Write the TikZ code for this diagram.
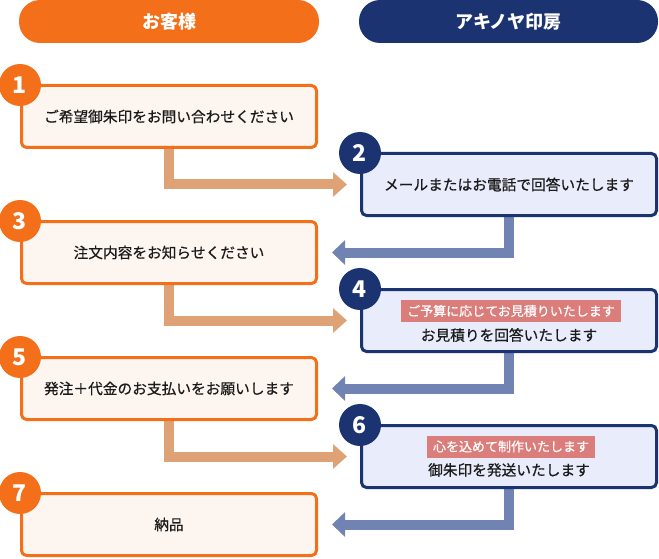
\documentclass[tikz,border=0pt]{standalone}
\usepackage{fontspec}
\setmainfont{Noto Sans CJK JP}
\newfontfamily\medfont[FakeBold=0.5]{Noto Sans CJK JP}
\usetikzlibrary{arrows.meta,calc}
\definecolor{orng}{HTML}{F36F1A}
\definecolor{ofill}{HTML}{FDF5F0}
\definecolor{oarr}{HTML}{DFA176}
\definecolor{navy}{HTML}{1C3372}
\definecolor{nfill}{HTML}{E8ECFB}
\definecolor{narr}{HTML}{7083B3}
\definecolor{pinklab}{HTML}{DB7D7B}
\definecolor{txt}{HTML}{1A1A1A}
\begin{document}
\begin{tikzpicture}[x=1pt,y=-1pt,
  header/.style={rectangle, rounded corners=21pt, minimum width=300pt, minimum height=43pt,
    inner sep=0pt, text=white, font=\bfseries\fontsize{18}{20}\selectfont},
  custbox/.style={rectangle, draw=orng, fill=ofill, line width=3pt, rounded corners=5pt,
    minimum width=295pt, minimum height=62pt, inner sep=0pt, text=txt,
    font=\medfont\fontsize{14.7}{17}\selectfont},
  shopbox/.style={custbox, draw=navy, fill=nfill},
  onum/.style={circle, fill=orng, minimum size=42pt, inner sep=0pt, text=white,
    font=\bfseries\fontsize{23}{23}\selectfont},
  nnum/.style={onum, fill=navy},
  oarrow/.style={draw=oarr, line width=10pt, -{Triangle[width=24pt,length=14pt]}, shorten >=13pt},
  narrow/.style={draw=narr, line width=10pt, -{Triangle[width=24pt,length=13pt]}, shorten >=14pt},
  plabel/.style={rectangle, fill=pinklab, text=white, minimum height=22pt, inner xsep=6pt,
    inner ysep=0pt, font=\medfont\fontsize{13}{15}\selectfont},
  maintext/.style={inner sep=0pt, text=txt, font=\medfont\fontsize{14.7}{17}\selectfont}
]
\useasboundingbox (0,0) rectangle (659,559);

\node[header, fill=orng] (h1) at (169,21.5) {お客様};
\node[header, fill=navy, minimum width=299pt] (h2) at (508.5,21.5) {アキノヤ印房};

\path
  (169,116.5) coordinate (c1)
  (509,184.5) coordinate (c2)
  (169,252.5) coordinate (c3)
  (509,320.5) coordinate (c4)
  (169,388.5) coordinate (c5)
  (509,456.5) coordinate (c6)
  (169,524.5) coordinate (c7);

\node[custbox, draw opacity=0, fill opacity=0] (b1) at (c1) {};
\node[shopbox, draw opacity=0, fill opacity=0] (b2) at (c2) {};
\node[custbox, draw opacity=0, fill opacity=0] (b3) at (c3) {};
\node[shopbox, draw opacity=0, fill opacity=0] (b4) at (c4) {};
\node[custbox, draw opacity=0, fill opacity=0] (b5) at (c5) {};
\node[shopbox, draw opacity=0, fill opacity=0] (b6) at (c6) {};
\node[custbox, draw opacity=0, fill opacity=0] (b7) at (c7) {};

% arrows
\draw[oarrow] (b1.south) |- (b2.west);
\draw[narrow] (b2.south) |- (b3.east);
\draw[oarrow] (b3.south) |- (b4.west);
\draw[narrow] (b4.south) |- (b5.east);
\draw[oarrow] (b5.south) |- (b6.west);
\draw[narrow] (b6.south) |- (b7.east);

% visible boxes
\node[custbox] (v1) at (b1) {ご希望御朱印をお問い合わせください};
\node[shopbox] (v2) at (b2) {メールまたはお電話で回答いたします};
\node[custbox] (v3) at (b3) {注文内容をお知らせください};
\node[shopbox] (v4) at (b4) {};
\node[custbox] (v5) at (b5) {発注＋代金のお支払いをお願いします};
\node[shopbox] (v6) at (b6) {};
\node[custbox] (v7) at (b7) {納品};

\node[plabel] (l4) at ($(b4.center)+(2,-9.5)$) {ご予算に応じてお見積りいたします};
\node[maintext] (t4) at ($(b4.center)+(0,14.5)$) {お見積りを回答いたします};
\node[plabel] (l6) at ($(b6.center)+(2,-10)$) {心を込めて制作いたします};
\node[maintext] (t6) at ($(b6.center)+(0,13.5)$) {御朱印を発送いたします};

% number circles
\node[onum] (n1) at ($(v1.north west)+(0,1)$) {1};
\node[nnum] (n2) at ($(v2.north west)+(0,1)$) {2};
\node[onum] (n3) at ($(v3.north west)+(0,1)$) {3};
\node[nnum] (n4) at ($(v4.north west)+(0,1)$) {4};
\node[onum] (n5) at ($(v5.north west)+(0,1)$) {5};
\node[nnum] (n6) at ($(v6.north west)+(0,1)$) {6};
\node[onum] (n7) at ($(v7.north west)+(0,1)$) {7};
\end{tikzpicture}
\end{document}
